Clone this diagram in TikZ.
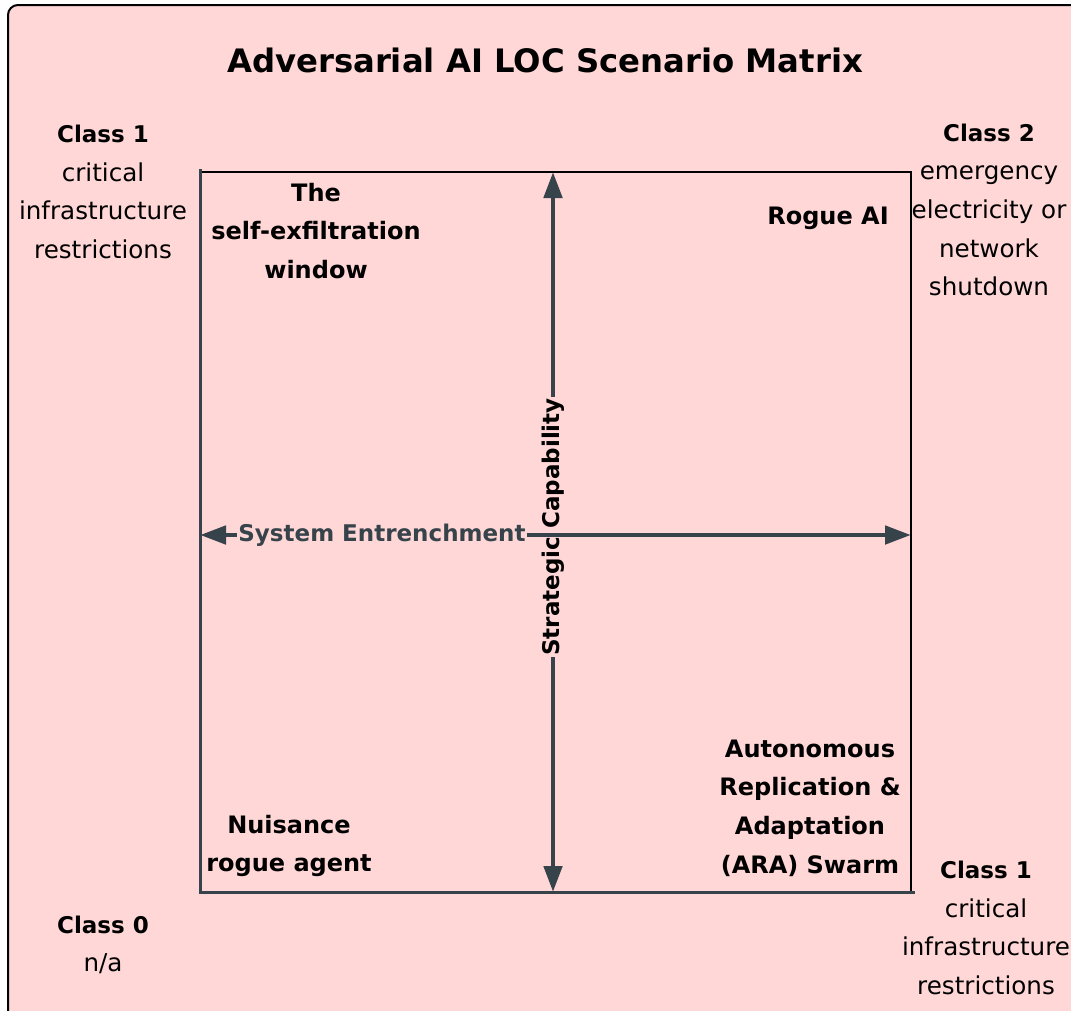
\documentclass[tikz,border=0pt]{standalone}
\usepackage{fontspec}
\setmainfont{DejaVu Sans}
\usetikzlibrary{arrows.meta}
\definecolor{bgpink}{HTML}{FFD7D7}
\definecolor{axisgrey}{HTML}{37434B}
\tikzset{
  lbl/.style={align=center, font=\fontsize{24.6}{38.6}\selectfont, inner sep=0pt},
  blbl/.style={lbl, font=\fontsize{24}{38.6}\selectfont\bfseries},
  axisline/.style={draw=axisgrey, line width=4.8pt, {Triangle[length=26pt,width=18pt]}-{Triangle[length=26pt,width=18pt]}},
  axislbl/.style={font=\fontsize{23}{28}\selectfont\bfseries, fill=bgpink, inner sep=1pt},
}
\newcommand{\clshead}[1]{{\fontsize{23}{38.6}\selectfont\bfseries #1}}
\begin{document}
\begin{tikzpicture}[x=1pt,y=-1pt]
\useasboundingbox (0,0) rectangle (1071,1010);
\clip (0,0) rectangle (1071,1010);
\fill[white] (0,0) rectangle (1071,1010);
\draw[fill=bgpink, line width=2pt, rounded corners=10pt] (8,5) rectangle (1100,1040);

% title
\node[font=\fontsize{32.3}{40}\selectfont\bfseries, inner sep=0pt] (title) at (545,60) {Adversarial AI LOC Scenario Matrix};

% square corners
\coordinate (TL) at (200,172);
\coordinate (TR) at (911,172);
\coordinate (BL) at (200,892);
\coordinate (BR) at (911,892);
\coordinate (top) at (553,172);
\coordinate (bot) at (553,892);
\coordinate (lft) at (200,535);
\coordinate (rgt) at (911,535);

\draw[line width=1.5pt] (TL) -- (TR) -- (BR);
\draw[draw=axisgrey, line width=3pt] (200,169) -- (BL) -- (915,892);

% vertical axis
\draw[axisline] (bot) -- (top);
\node[axislbl, rotate=90, text=black] (vlab) at (553,527) {Strategic Capability};
% horizontal axis
\draw[axisline] (lft) -- (rgt);
\node[axislbl, text=axisgrey] (hlab) at (382,535) {System Entrenchment};

% quadrant labels
\node[blbl] (q1) at (316,231) {The\\self-exfiltration\\window};
\node[blbl] (q2) at (828,218) {Rogue AI};
\node[blbl] (q3) at (289,846) {Nuisance\\rogue agent};
\node[blbl] (q4) at (810,808) {Autonomous\\Replication \&\\Adaptation\\(ARA) Swarm};

% corner classes
\node[lbl] (c1) at (103,192) {\clshead{Class 1}\\critical\\infrastructure\\restrictions};
\node[lbl] (c2) at (989,210) {\clshead{Class 2}\\emergency\\electricity or\\network\\shutdown};
\node[lbl] (c0) at (103,945) {\clshead{Class 0}\\n/a};
\node[lbl] (c1b) at (986,928) {\clshead{Class 1}\\critical\\infrastructure\\restrictions};
\end{tikzpicture}
\end{document}
